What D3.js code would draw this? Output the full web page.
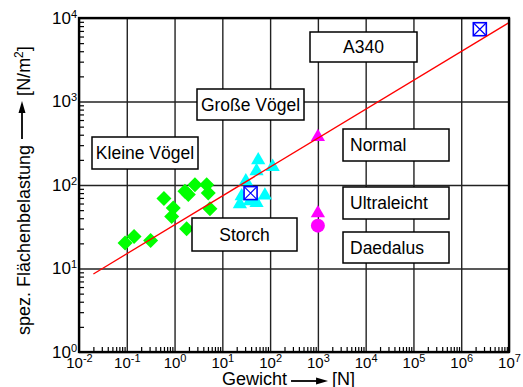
<!DOCTYPE html>
<html>
<head>
<meta charset="utf-8">
<script src="https://cdn.jsdelivr.net/npm/d3@7/dist/d3.min.js"></script>
<style>
  body { margin: 0; background: #fff; }
  text { font-family: "Liberation Sans", Arial, sans-serif; fill: #000; }
</style>
</head>
<body>
<svg id="chart" width="523" height="387"></svg>
<script>
// Kleine Vögel (green diamonds): weight [N], wing loading [N/m2]
var smallBirdW = [0.092, 0.142, 0.316, 0.60, 0.94, 0.87, 1.79, 1.65, 1.94, 2.67, 4.7, 5.07, 5.5];
var smallBirdL = [20.2, 24.2, 21.7, 68.7, 53, 42, 30, 84, 76.7, 101, 101, 80, 52];

// Große Vögel (cyan triangles)
var bigBirdW = [56.4, 113, 52, 31, 25.4, 77.8, 37.8, 23.3, 52];
var bigBirdL = [207, 172, 153, 116, 76.7, 78.2, 66.8, 61.5, 63.7];

// Storch and A340 (blue crossed squares)
var specialW = [39, 2.45e6];
var specialL = [80, 7340];

// Normal / Ultraleicht (magenta triangles), Daedalus (magenta circle)
var planeW = [1000, 1000];
var planeL = [392, 48];
var daedalusW = [1000];
var daedalusL = [32.6];

// trend line, L ~ W^(1/3)
var trendW = [0.02, 1e7];
var trendL = [8.6, 8800];

// axis ticks
var xMajor = [1e-2, 1e-1, 1e0, 1e1, 1e2, 1e3, 1e4, 1e5, 1e6, 1e7];
var yMajor = [1e0, 1e1, 1e2, 1e3, 1e4];

// label boxes (layout only)
var labels = [
   {text: "Kleine Vögel", x: 92,  y: 137, w: 106, h: 32, anchor: "middle"},
   {text: "Große Vögel",  x: 197, y: 89,  w: 107, h: 31, anchor: "middle"},
   {text: "A340",         x: 310, y: 32,  w: 107, h: 30, anchor: "middle"},
   {text: "Normal",       x: 343, y: 129, w: 106, h: 32, anchor: "start"},
   {text: "Ultraleicht",  x: 343, y: 187, w: 106, h: 32, anchor: "start"},
   {text: "Daedalus",     x: 343, y: 232, w: 106, h: 31, anchor: "start"},
   {text: "Storch",       x: 192, y: 218, w: 105, h: 33, anchor: "middle"}
];

var svg = d3.select("#chart");
var pLeft = 79, pRight = 509, pTop = 18, pBottom = 352;

var x = d3.scaleLog().domain([1e-2, 1e7]).range([pLeft, pRight]);
var y = d3.scaleLog().domain([1, 1e4]).range([pBottom, pTop]);

function minorTicks(majors) {
   var out = [];
   for (var i = 0; i < majors.length - 1; i++)
      for (var k = 2; k <= 9; k++) out.push(majors[i] * k);
   return out;
}

// grid
svg.append("g")
   .attr("transform", "translate(0," + pBottom + ")")
   .call(d3.axisBottom(x).tickValues(xMajor).tickSize(-(pBottom - pTop)).tickFormat(""))
   .call(function(g){ g.select(".domain").remove(); })
   .selectAll("line").attr("stroke", "#222").attr("stroke-width", 1.4);
svg.append("g")
   .attr("transform", "translate(" + pLeft + ",0)")
   .call(d3.axisLeft(y).tickValues(yMajor).tickSize(-(pRight - pLeft)).tickFormat(""))
   .call(function(g){ g.select(".domain").remove(); })
   .selectAll("line").attr("stroke", "#222").attr("stroke-width", 1.4);

// markers
function pts(ws, ls) { return ws.map(function(w, i){ return [w, ls[i]]; }); }

var diamond = "M0,-7.5L7.5,0L0,7.5L-7.5,0Z";
svg.append("g").selectAll("path")
   .data(pts(smallBirdW, smallBirdL)).enter().append("path")
   .attr("d", diamond)
   .attr("transform", function(d){ return "translate(" + x(d[0]) + "," + y(d[1]) + ")"; })
   .attr("fill", "#00ff00");

var tri = d3.symbol().type(d3.symbolTriangle).size(88);
svg.append("g").selectAll("path")
   .data(pts(bigBirdW, bigBirdL)).enter().append("path")
   .attr("d", tri)
   .attr("transform", function(d){ return "translate(" + x(d[0]) + "," + (y(d[1]) + 1.5) + ")"; })
   .attr("fill", "#00ffff");

svg.append("g").selectAll("path")
   .data(pts(planeW, planeL)).enter().append("path")
   .attr("d", tri)
   .attr("transform", function(d){ return "translate(" + x(d[0]) + "," + (y(d[1]) + 1.5) + ")"; })
   .attr("fill", "#ff00ff");

svg.append("g").selectAll("circle")
   .data(pts(daedalusW, daedalusL)).enter().append("circle")
   .attr("cx", function(d){ return x(d[0]); })
   .attr("cy", function(d){ return y(d[1]); })
   .attr("r", 7)
   .attr("fill", "#ff00ff");

var sq = svg.append("g").selectAll("g")
   .data(pts(specialW, specialL)).enter().append("g")
   .attr("transform", function(d){ return "translate(" + x(d[0]) + "," + y(d[1]) + ")"; });
sq.append("rect").attr("x", -6.5).attr("y", -6.5).attr("width", 13).attr("height", 13)
   .attr("fill", "#fff").attr("stroke", "#0000ff").attr("stroke-width", 1.6);
sq.append("path").attr("d", "M-6.5,-6.5L6.5,6.5M6.5,-6.5L-6.5,6.5")
   .attr("stroke", "#0000ff").attr("stroke-width", 1.2);

// trend line
svg.append("path")
   .datum(pts(trendW, trendL))
   .attr("d", d3.line().x(function(d){ return x(d[0]); }).y(function(d){ return y(d[1]); }))
   .attr("fill", "none").attr("stroke", "#ff0000").attr("stroke-width", 1.3);

// label boxes
var lb = svg.append("g").selectAll("g").data(labels).enter().append("g");
lb.append("rect")
   .attr("x", function(d){ return d.x; }).attr("y", function(d){ return d.y; })
   .attr("width", function(d){ return d.w; }).attr("height", function(d){ return d.h; })
   .attr("fill", "#fff").attr("stroke", "#000").attr("stroke-width", 1.5);
lb.append("text")
   .attr("x", function(d){ return d.anchor == "middle" ? d.x + d.w / 2 : d.x + 7; })
   .attr("y", function(d){ return d.y + d.h / 2 + 6.3; })
   .attr("text-anchor", function(d){ return d.anchor; })
   .style("font-size", "17.5px")
   .text(function(d){ return d.text; });

// minor ticks
svg.append("g")
   .attr("transform", "translate(0," + pBottom + ")")
   .call(d3.axisBottom(x).tickValues(minorTicks(xMajor)).tickSize(-5).tickFormat(""))
   .call(function(g){ g.select(".domain").remove(); })
   .selectAll("line").attr("stroke", "#000").attr("stroke-width", 1.2);
svg.append("g")
   .attr("transform", "translate(" + pLeft + ",0)")
   .call(d3.axisLeft(y).tickValues(minorTicks(yMajor)).tickSize(-5).tickFormat(""))
   .call(function(g){ g.select(".domain").remove(); })
   .selectAll("line").attr("stroke", "#000").attr("stroke-width", 1.2);

// frame
svg.append("rect")
   .attr("x", pLeft).attr("y", pTop).attr("width", pRight - pLeft).attr("height", pBottom - pTop)
   .attr("fill", "none").attr("stroke", "#000").attr("stroke-width", 2.3);

// power-of-ten labels
function powerLabel(sel, size) {
   sel.each(function(d){
      var t = d3.select(this).text("").style("font-size", size + "px").attr("fill", "#000");
      t.append("tspan").text("10");
      t.append("tspan").attr("dy", -6).style("font-size", "11px")
         .text(String(Math.round(Math.log10(d))));
   });
}
var xl = svg.append("g")
   .attr("transform", "translate(0," + pBottom + ")")
   .call(d3.axisBottom(x).tickValues(xMajor).tickSize(0).tickPadding(5.5));
xl.select(".domain").remove();
xl.selectAll("text").call(powerLabel, 15);

var yl = svg.append("g")
   .attr("transform", "translate(" + pLeft + ",0)")
   .call(d3.axisLeft(y).tickValues(yMajor).tickSize(0).tickPadding(2));
yl.select(".domain").remove();
yl.selectAll("text").call(powerLabel, 17);
svg.selectAll(".tick").attr("font-family", null);

// axis titles with arrows
function arrow(g, x0, len) {
   g.append("line").attr("x1", x0).attr("x2", x0 + len - 10).attr("y1", 0).attr("y2", 0)
      .attr("stroke", "#000").attr("stroke-width", 1.8);
   g.append("path").attr("d", "M" + (x0 + len) + ",0L" + (x0 + len - 12) + ",-3.5L" + (x0 + len - 12) + ",3.5Z")
      .attr("fill", "#000");
}

var xt = svg.append("g").attr("transform", "translate(222,385)");
var xt1 = xt.append("text").style("font-size", "18px").text("Gewicht");
var w1 = xt1.node().getComputedTextLength();
arrow(xt.append("g").attr("transform", "translate(0,-4)"), w1 + 4, 37);
xt.append("text").attr("x", w1 + 45).style("font-size", "18px").text("[N]");

var yt = svg.append("g").attr("transform", "translate(30,335) rotate(-90)");
var yt1 = yt.append("text").style("font-size", "18px").text("spez. Flächenbelastung");
var w2 = yt1.node().getComputedTextLength();
arrow(yt.append("g").attr("transform", "translate(0,-8)"), w2 + 6, 38);
var yt2 = yt.append("text").attr("x", w2 + 49).style("font-size", "18px");
yt2.append("tspan").text("[N/m");
yt2.append("tspan").attr("dy", -7).style("font-size", "12px").text("2");
yt2.append("tspan").attr("dy", 7).text("]");
</script>
</body>
</html>
